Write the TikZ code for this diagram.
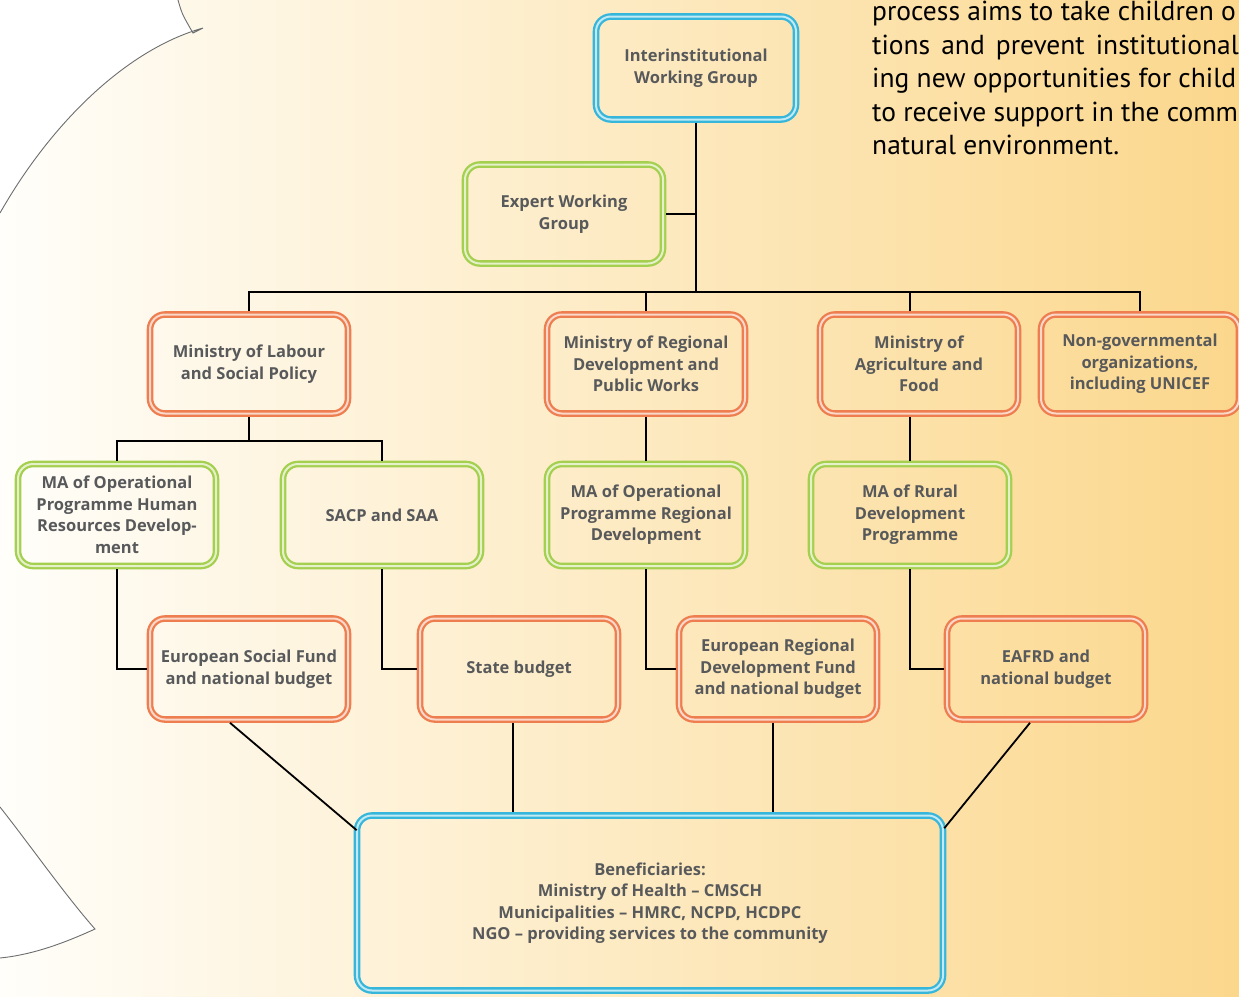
\documentclass[tikz,border=0pt]{standalone}
\usepackage{fontspec}
\setmainfont{Open Sans}
\newfontfamily\parafont{PT Sans}
\usepackage{xcolor}

\definecolor{boxorange}{HTML}{EE7D4F}
\definecolor{boxgreen}{HTML}{A5CF4F}
\definecolor{boxblue}{HTML}{35B6DA}
\definecolor{textgray}{HTML}{58595B}
\definecolor{bgleft}{HTML}{FFFEFA}
\definecolor{bgright}{HTML}{FBD78C}
\definecolor{edgegray}{HTML}{6D6E70}

\begin{document}
\begin{tikzpicture}[x=1pt, y=-1pt,
  box/.style={rounded corners=15pt, line width=2.3pt, double distance=2pt, align=center, text=textgray, font=\bfseries\fontsize{16.5}{21.5}\selectfont, minimum width=198pt, minimum height=99pt, outer sep=3.3pt, inner sep=2pt},
  blue node/.style={box, draw=boxblue, double=boxblue!30!white},
  green node/.style={box, draw=boxgreen, double=boxgreen!30!white},
  orange node/.style={box, draw=boxorange, double=boxorange!30!white},
  para/.style={anchor=base west, inner sep=0pt, font=\parafont\fontsize{27.5}{33}\selectfont}]
\useasboundingbox (0,0) rectangle (1239,996);
\clip (0,0) rectangle (1239,996);
\fill[left color=bgleft, right color=bgright] (0,0) rectangle (1239,996);
\fill[white] (0,0) -- (178,0) .. controls (182,14) .. (193,33) -- (203,28) .. controls (125,50) and (50,125) .. (0,213) -- cycle;
\draw[edgegray, line width=0.9pt] (178,0) .. controls (182,14) .. (193,33) -- (203,28) .. controls (125,50) and (50,125) .. (0,213);
\fill[white] (0,807) .. controls (30,845) and (65,895) .. (95,929) .. controls (60,945) and (30,955) .. (0,958) -- cycle;
\draw[edgegray, line width=0.9pt] (0,807) .. controls (30,845) and (65,895) .. (95,929) .. controls (60,945) and (30,955) .. (0,958);
% text beside the chart
\node[para] (l1) at (872,20) {process aims to take children o};
\node[para] (l2) at (872,54) {\makebox[374pt][s]{tions and prevent institutionali}};
\node[para] (l3) at (872,87) {ing new opportunities for child};
\node[para] (l4) at (872,121) {to receive support in the commu};
\node[para] (l5) at (872,154) {natural environment.};
\begin{scope}
\node[blue node, minimum width=200pt, minimum height=103pt] (iwg) at (696,68) {Interinstitutional\\Working Group};
\node[green node] (ewg) at (564,214) {Expert Working\\Group};
\node[orange node] (mlsp) at (249,364) {Ministry of Labour\\and Social Policy};
\node[orange node] (mrd) at (646,364) {Ministry of Regional\\Development and\\Public Works};
\node[orange node] (maf) at (919,364) {Ministry of\\Agriculture and\\Food};
\node[orange node] (ngo) at (1140,364) {Non-governmental\\organizations,\\including UNICEF};
\node[green node, minimum height=102pt] (mahrd) at (117,515) {MA of Operational\\Programme Human\\Resources Develop-\\ment};
\node[green node, minimum height=102pt] (sacp) at (382,515) {SACP and SAA};
\node[green node, minimum height=102pt] (mard) at (646,515) {MA of Operational\\Programme Regional\\Development};
\node[green node, minimum height=102pt] (marp) at (910,515) {MA of Rural\\Development\\Programme};
\node[orange node, minimum height=101pt] (esf) at (249,669) {European Social Fund\\and national budget};
\node[orange node, minimum height=101pt] (state) at (519,669) {State budget};
\node[orange node, minimum height=101pt] (erdf) at (778,669) {European Regional\\Development Fund\\and national budget};
\node[orange node, minimum height=101pt] (eafrd) at (1046,669) {EAFRD and\\national budget};
\node[blue node, minimum width=586pt, minimum height=175pt] (ben) at (650,903) {Beneficiaries:\\Ministry of Health -- CMSCH\\Municipalities -- HMRC, NCPD, HCDPC\\NGO -- providing services to the community};
\end{scope}
\begin{scope}[line width=1.8pt]
\coordinate (bus) at (696,292);
\coordinate (split) at (249,441);
\draw (iwg.south) -- (bus);
\draw (ewg.east) -- (ewg.east -| bus);
\draw (mlsp.north) |- (ngo.north |- bus) -- (ngo.north);
\draw (mrd.north) -- (mrd.north |- bus);
\draw (marp.north |- maf.north) -- (marp.north |- bus);
\draw (mlsp.south) -- (split);
\draw (mahrd.north) |- (split) -| (sacp.north);
\draw (mrd.south) -- (mard.north);
\draw (marp.north |- maf.south) -- (marp.north);
\draw (mahrd.south) |- (esf.west);
\draw (sacp.south) |- (state.west);
\draw (mard.south) |- (erdf.west);
\draw (marp.south) |- (eafrd.west);
\draw ([xshift=-19pt]esf.south) -- ([shift={(3pt,-18pt)}]ben.north west);
\draw ([xshift=-6pt]state.south) -- ([xshift=-6pt]state.south |- ben.north);
\draw ([xshift=-5pt]erdf.south) -- ([xshift=-5pt]erdf.south |- ben.north);
\draw ([xshift=-16pt]eafrd.south) -- ([shift={(-2pt,-16pt)}]ben.north east);
\end{scope}
\end{tikzpicture}
\end{document}
